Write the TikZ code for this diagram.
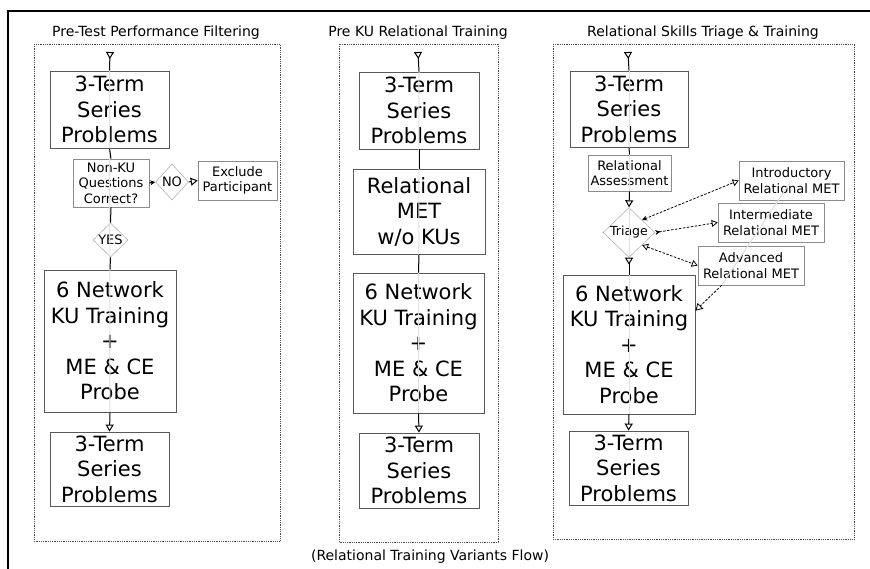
\documentclass[tikz,border=0pt]{standalone}
\usepackage{fontspec}
\setmainfont{DejaVu Sans}
\usetikzlibrary{shapes.geometric,arrows.meta}

\begin{document}
\begin{tikzpicture}[x=1pt,y=-1pt,
  big/.style={font=\fontsize{21}{25.5}\selectfont},
  small/.style={font=\fontsize{13}{15.5}\selectfont},
  stagebox/.style={draw=black!65, line width=0.8pt, align=center, inner sep=0pt, big},
  querybox/.style={draw=black!45, line width=0.6pt, align=center, inner sep=0pt, small},
  choice/.style={diamond, draw=black!30, line width=0.6pt, inner sep=0pt, align=center, small},
  frame/.style={draw=black!70, densely dotted, line width=0.8pt},
  heading/.style={font=\fontsize{14}{16}\selectfont},
  ghost/.style={draw=black!12, line width=1pt},
  link/.style={draw=black, line width=1pt},
  tip/.style={-{Triangle[open,length=7pt,width=8pt]}},
  entry/.style={{Triangle[open,length=7pt,width=8pt,reversed]}-},
  nudge/.style={-{Stealth[length=5pt,width=5pt]}},
  option/.style={draw=black, line width=0.8pt, dash pattern=on 2.5pt off 1.5pt},
]
\useasboundingbox (0,0) rectangle (870,569);

% outer border (top and left edges)
\draw[line width=2pt] (8,569) -- (8,11) -- (870,11);

% panel frames
\draw[frame] (34,44) rectangle (280,541);
\draw[frame] (339,44) rectangle (498,542);
\draw[frame] (553,44) rectangle (854,539);

% headings
\node[heading] (h1) at (156,33) {Pre-Test Performance Filtering};
\node[heading] (h2) at (418,33) {Pre KU Relational Training};
\node[heading] (h3) at (703,33) {Relational Skills Triage \& Training};
\node[heading] (cap) at (430,557) {(Relational Training Variants Flow)};

% ---------- panel 1 ----------
\coordinate (p1top) at (110,52);
\node[stagebox, minimum width=119, minimum height=77] (p1a) at (109.5,109.5) {3-Term\\Series\\Problems};
\node[querybox, minimum width=76, minimum height=48] (p1d) at (111,183) {Non-KU\\Questions\\Correct?};
\node[choice, minimum width=33, minimum height=36] (p1no) at (172,182) {NO};
\node[querybox, minimum width=79, minimum height=39] (p1ex) at (237.5,180.5) {Exclude\\Participant};
\node[choice, minimum width=35, minimum height=34] (p1yes) at (110.5,240) {YES};
\node[stagebox, minimum width=132, minimum height=142] (p1net) at (110,341)
  {\fontsize{21}{26}\selectfont 6 Network\\KU Training\\+\\ME \& CE\\Probe};
\node[stagebox, minimum width=119, minimum height=74] (p1fin) at (109.5,469) {3-Term\\Series\\Problems};

% ---------- panel 2 ----------
\coordinate (p2top) at (418,52);
\node[stagebox, minimum width=120, minimum height=77] (p2a) at (419,110.5) {3-Term\\Series\\Problems};
\node[stagebox, minimum width=132, minimum height=85] (p2b) at (419,211.5) {Relational\\MET\\w/o KUs};
\node[stagebox, minimum width=131, minimum height=140] (p2net) at (418.5,343)
  {\fontsize{21}{26}\selectfont 6 Network\\KU Training\\+\\ME \& CE\\Probe};
\node[stagebox, minimum width=120, minimum height=75] (p2fin) at (419,470.5) {3-Term\\Series\\Problems};

% ---------- panel 3 ----------
\coordinate (p3top) at (628,52);
\node[stagebox, minimum width=118, minimum height=76] (p3a) at (629,109) {3-Term\\Series\\Problems};
\node[querybox, minimum width=83, minimum height=36] (p3as) at (629.5,173) {Relational\\Assessment};
\node[choice, minimum width=52, minimum height=46, font=\fontsize{12.5}{15}\selectfont] (p3tri) at (629,232.5) {Triage};
\node[querybox, minimum width=105, minimum height=39] (p3intro) at (791.5,180.5) {Introductory\\Relational MET};
\node[querybox, minimum width=106, minimum height=39] (p3inter) at (771,222.5) {Intermediate\\Relational MET};
\node[querybox, minimum width=106, minimum height=39] (p3adv) at (751,265.5) {Advanced\\Relational MET};
\node[stagebox, minimum width=132, minimum height=139] (p3net) at (629,344.5)
  {\fontsize{21}{26}\selectfont 6 Network\\KU Training\\+\\ME \& CE\\Probe};
\node[stagebox, minimum width=119, minimum height=74] (p3fin) at (628.5,468) {3-Term\\Series\\Problems};

% faint guide lines along each column
\draw[ghost] (p1a.north) -- (p1net.south);
\draw[ghost] (p2a.north) -- (p2net.south);
\draw[ghost] (p3a.north) -- (p3net.south);
\draw[ghost] (p3intro.center) -- (p3adv.214);

% ---------- connectors, panel 1 ----------
\draw[link, entry] (p1top) -- (p1a.north);
\draw[link] (p1a.south) -- (p1d.north);
\draw[link, nudge] (p1d.east) -- (p1no.west);
\draw[link, tip] (p1no.east) -- (p1ex.west);
\draw[link] (p1d.south) -- (p1yes.north);
\draw[link] (p1yes.south) -- (p1net.north);
\draw[link, tip] (p1net.south) -- (p1fin.north);

% ---------- connectors, panel 2 ----------
\draw[link, entry] (p2top) -- (p2a.north);
\draw[link] (p2a.south) -- (p2b.north);
\draw[link] (p2b.south) -- (p2net.north);
\draw[link, tip] (p2net.south) -- (p2fin.north);

% ---------- connectors, panel 3 ----------
\draw[link, entry] (p3top) -- (p3a.north);
\draw[link] (p3a.south) -- (p3as.north);
\draw[link, tip] (p3as.south) -- (p3tri.north);
\draw[link, entry] (p3tri.south) -- (p3net.north);
\draw[link, tip] (p3net.south) -- (p3fin.north);
\draw[option, {Stealth[length=5pt,width=5pt]}-{Triangle[open,length=6pt,width=7pt]}] (p3tri.north east) -- (p3intro.west);
\draw[option, {Stealth[length=5pt,width=5pt,reversed]}-{Triangle[open,length=6pt,width=7pt]}] (p3tri.east) -- (p3inter.west);
\draw[option, {Triangle[open,length=6pt,width=7pt]}-{Triangle[open,length=6pt,width=7pt]}] (p3tri.south east) -- (p3adv.west);
\draw[option, tip] (p3adv.214) -- (p3net.27);

\end{tikzpicture}
\end{document}
